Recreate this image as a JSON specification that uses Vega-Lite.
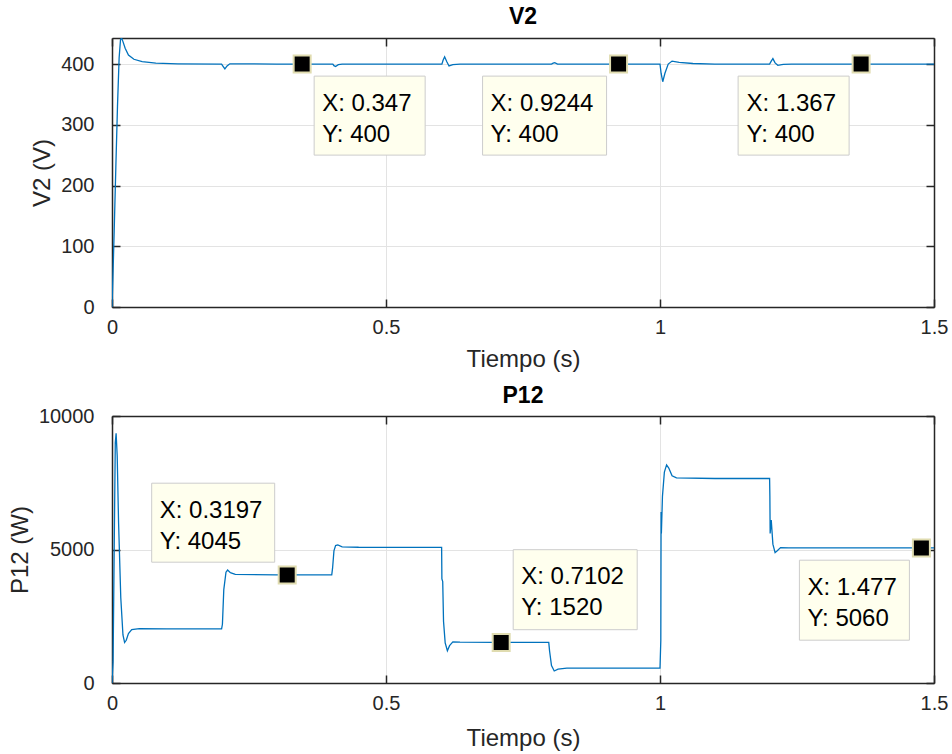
{
  "$schema": "https://vega.github.io/schema/vega-lite/v6.json",
  "padding": {"left": 8, "top": 6, "right": 5, "bottom": 5},
  "background": "#ffffff",
  "spacing": 14,
  "config": {
    "view": {"stroke": null},
    "font": "Liberation Sans",
    "axis": {
      "labelFont": "Liberation Sans",
      "labelFontSize": 20,
      "labelColor": "#262626",
      "labelFlush": false,
      "titleFont": "Liberation Sans",
      "titleFontSize": 24,
      "titleFontWeight": "normal",
      "titleColor": "#262626",
      "domainColor": "#262626",
      "domainWidth": 1.5,
      "tickColor": "#262626",
      "tickWidth": 1.5,
      "tickSize": -8,
      "gridColor": "#E3E3E3",
      "gridWidth": 1
    },
    "title": {"font": "Liberation Sans", "fontSize": 23, "fontWeight": "bold", "color": "#000000", "offset": 8}
  },
  "datasets": {
    "v2": [
      {"t": 0, "v": 0}, {"t": 0.002, "v": 60}, {"t": 0.004, "v": 125}, {"t": 0.007, "v": 230}, {"t": 0.01, "v": 330},
      {"t": 0.013, "v": 410}, {"t": 0.0155, "v": 440}, {"t": 0.0175, "v": 443}, {"t": 0.02, "v": 437}, {"t": 0.024, "v": 426},
      {"t": 0.03, "v": 415}, {"t": 0.04, "v": 408}, {"t": 0.055, "v": 404}, {"t": 0.08, "v": 401.5}, {"t": 0.12, "v": 400.5},
      {"t": 0.2, "v": 400}, {"t": 0.203, "v": 396}, {"t": 0.206, "v": 392}, {"t": 0.21, "v": 397}, {"t": 0.215, "v": 400.5},
      {"t": 0.24, "v": 400.5}, {"t": 0.3, "v": 400}, {"t": 0.403, "v": 400}, {"t": 0.405, "v": 397.5}, {"t": 0.408, "v": 396},
      {"t": 0.413, "v": 399}, {"t": 0.42, "v": 400}, {"t": 0.602, "v": 400}, {"t": 0.604, "v": 406}, {"t": 0.607, "v": 412},
      {"t": 0.611, "v": 404}, {"t": 0.615, "v": 397}, {"t": 0.622, "v": 399}, {"t": 0.635, "v": 400}, {"t": 0.802, "v": 400},
      {"t": 0.805, "v": 401.5}, {"t": 0.808, "v": 402.5}, {"t": 0.813, "v": 400}, {"t": 1.0, "v": 400}, {"t": 1.002, "v": 385},
      {"t": 1.005, "v": 371}, {"t": 1.009, "v": 385}, {"t": 1.015, "v": 400}, {"t": 1.022, "v": 405}, {"t": 1.035, "v": 403},
      {"t": 1.06, "v": 401}, {"t": 1.1, "v": 400}, {"t": 1.2, "v": 400}, {"t": 1.203, "v": 405}, {"t": 1.206, "v": 409},
      {"t": 1.21, "v": 402}, {"t": 1.215, "v": 398}, {"t": 1.225, "v": 399.5}, {"t": 1.24, "v": 400}, {"t": 1.5, "v": 400}
    ],
    "p12": [
      {"t": 0, "v": 0}, {"t": 0.002, "v": 800}, {"t": 0.004, "v": 5000}, {"t": 0.006, "v": 9000}, {"t": 0.0075, "v": 9350},
      {"t": 0.0095, "v": 8500}, {"t": 0.012, "v": 6000}, {"t": 0.016, "v": 3200}, {"t": 0.02, "v": 1800}, {"t": 0.023, "v": 1520},
      {"t": 0.026, "v": 1600}, {"t": 0.03, "v": 1850}, {"t": 0.036, "v": 2000}, {"t": 0.05, "v": 2040}, {"t": 0.1, "v": 2030},
      {"t": 0.2, "v": 2030}, {"t": 0.2015, "v": 2200}, {"t": 0.204, "v": 3500}, {"t": 0.208, "v": 4150}, {"t": 0.211, "v": 4230},
      {"t": 0.216, "v": 4130}, {"t": 0.225, "v": 4070}, {"t": 0.3, "v": 4050}, {"t": 0.401, "v": 4050}, {"t": 0.4025, "v": 4300},
      {"t": 0.405, "v": 4950}, {"t": 0.408, "v": 5150}, {"t": 0.412, "v": 5170}, {"t": 0.42, "v": 5100}, {"t": 0.45, "v": 5085},
      {"t": 0.6, "v": 5080}, {"t": 0.6015, "v": 5080}, {"t": 0.602, "v": 3900}, {"t": 0.6035, "v": 3800}, {"t": 0.605, "v": 2300},
      {"t": 0.608, "v": 1500}, {"t": 0.612, "v": 1210}, {"t": 0.616, "v": 1400}, {"t": 0.622, "v": 1540}, {"t": 0.635, "v": 1530},
      {"t": 0.7, "v": 1520}, {"t": 0.797, "v": 1520}, {"t": 0.7985, "v": 1200}, {"t": 0.802, "v": 650}, {"t": 0.807, "v": 450},
      {"t": 0.814, "v": 520}, {"t": 0.83, "v": 560}, {"t": 0.9, "v": 560}, {"t": 1.0, "v": 560}, {"t": 1.0015, "v": 1600},
      {"t": 1.002, "v": 6400}, {"t": 1.0025, "v": 5600}, {"t": 1.0045, "v": 7000}, {"t": 1.008, "v": 7900}, {"t": 1.012, "v": 8170},
      {"t": 1.016, "v": 8050}, {"t": 1.022, "v": 7760}, {"t": 1.03, "v": 7680}, {"t": 1.1, "v": 7660}, {"t": 1.2, "v": 7660},
      {"t": 1.2005, "v": 7000}, {"t": 1.201, "v": 5600}, {"t": 1.203, "v": 6100}, {"t": 1.206, "v": 5200}, {"t": 1.21, "v": 4880},
      {"t": 1.214, "v": 4950}, {"t": 1.22, "v": 5070}, {"t": 1.235, "v": 5060}, {"t": 1.5, "v": 5060}
    ],
    "tipsV": [
      {"id": 1, "t": 0.347, "v": 400, "label": ["X: 0.347", "Y: 400"]},
      {"id": 2, "t": 0.9244, "v": 400, "label": ["X: 0.9244", "Y: 400"]},
      {"id": 3, "t": 1.367, "v": 400, "label": ["X: 1.367", "Y: 400"]}
    ],
    "tipsP": [
      {"id": 1, "t": 0.3197, "v": 4045, "label": ["X: 0.3197", "Y: 4045"]},
      {"id": 2, "t": 0.7102, "v": 1520, "label": ["X: 0.7102", "Y: 1520"]},
      {"id": 3, "t": 1.477, "v": 5060, "label": ["X: 1.477", "Y: 5060"]}
    ]
  },
  "vconcat": [
    {
      "title": {"text": "V2", "offset": 8},
      "width": 822,
      "height": 269,
      "resolve": {"axis": {"x": "independent", "y": "independent"}},
      "layer": [
        {
          "data": {"name": "v2"},
          "mark": {"type": "line", "color": "#0072BD", "strokeWidth": 1.3, "clip": true},
          "encoding": {
            "x": {"field": "t", "type": "quantitative", "scale": {"domain": [0, 1.5], "nice": false, "zero": false},
                  "axis": {"title": "Tiempo (s)", "values": [0, 0.5, 1, 1.5], "labelExpr": "'' + datum.value", "grid": true, "labelPadding": 18, "titlePadding": 10}},
            "y": {"field": "v", "type": "quantitative", "scale": {"domain": [0, 443], "nice": false},
                  "axis": {"title": "V2 (V)", "values": [0, 100, 200, 300, 400], "grid": true, "labelPadding": 26, "titlePadding": 6}}
          }
        },
        {
          "data": {"name": "tipsV"},
          "mark": {"type": "point", "opacity": 0},
          "encoding": {
            "x": {"field": "t", "type": "quantitative", "axis": {"orient": "top", "labels": false, "title": null, "grid": false, "values": [0, 0.5, 1, 1.5]}},
            "y": {"field": "v", "type": "quantitative", "axis": {"orient": "right", "labels": false, "title": null, "grid": false, "values": [0, 100, 200, 300, 400]}}
          }
        },
        {
          "data": {"name": "tipsV"},
          "transform": [{"filter": "datum.id == 1"}],
          "mark": {"type": "rect", "width": 111, "height": 79, "xOffset": 67.5, "yOffset": 51.5, "fill": "#FFFFEE", "stroke": "#CCCCCC", "strokeWidth": 1},
          "encoding": {"x": {"field": "t", "type": "quantitative", "axis": null}, "y": {"field": "v", "type": "quantitative", "axis": null}}
        },
        {
          "data": {"name": "tipsV"},
          "transform": [{"filter": "datum.id == 2"}],
          "mark": {"type": "rect", "width": 124, "height": 79, "xOffset": -74, "yOffset": 51.5, "fill": "#FFFFEE", "stroke": "#CCCCCC", "strokeWidth": 1},
          "encoding": {"x": {"field": "t", "type": "quantitative", "axis": null}, "y": {"field": "v", "type": "quantitative", "axis": null}}
        },
        {
          "data": {"name": "tipsV"},
          "transform": [{"filter": "datum.id == 3"}],
          "mark": {"type": "rect", "width": 111, "height": 79, "xOffset": -67.5, "yOffset": 51.5, "fill": "#FFFFEE", "stroke": "#CCCCCC", "strokeWidth": 1},
          "encoding": {"x": {"field": "t", "type": "quantitative", "axis": null}, "y": {"field": "v", "type": "quantitative", "axis": null}}
        },
        {
          "data": {"name": "tipsV"},
          "transform": [{"filter": "datum.id == 1"}],
          "mark": {"type": "text", "align": "left", "baseline": "alphabetic", "dx": 20, "dy": 46.6, "fontSize": 24, "lineHeight": 31, "font": "Liberation Sans", "color": "#000000"},
          "encoding": {"x": {"field": "t", "type": "quantitative", "axis": null}, "y": {"field": "v", "type": "quantitative", "axis": null}, "text": {"field": "label"}}
        },
        {
          "data": {"name": "tipsV"},
          "transform": [{"filter": "datum.id == 2"}],
          "mark": {"type": "text", "align": "left", "baseline": "alphabetic", "dx": -128, "dy": 46.6, "fontSize": 24, "lineHeight": 31, "font": "Liberation Sans", "color": "#000000"},
          "encoding": {"x": {"field": "t", "type": "quantitative", "axis": null}, "y": {"field": "v", "type": "quantitative", "axis": null}, "text": {"field": "label"}}
        },
        {
          "data": {"name": "tipsV"},
          "transform": [{"filter": "datum.id == 3"}],
          "mark": {"type": "text", "align": "left", "baseline": "alphabetic", "dx": -114.5, "dy": 46.6, "fontSize": 24, "lineHeight": 31, "font": "Liberation Sans", "color": "#000000"},
          "encoding": {"x": {"field": "t", "type": "quantitative", "axis": null}, "y": {"field": "v", "type": "quantitative", "axis": null}, "text": {"field": "label"}}
        },
        {
          "data": {"name": "tipsV"},
          "mark": {"type": "point", "shape": "square", "filled": true, "size": 289, "color": "#000000", "stroke": "#E0DCB0", "strokeWidth": 2, "opacity": 1},
          "encoding": {"x": {"field": "t", "type": "quantitative", "axis": null}, "y": {"field": "v", "type": "quantitative", "axis": null}}
        }
      ]
    },
    {
      "title": {"text": "P12", "offset": -2},
      "width": 822,
      "height": 267,
      "resolve": {"axis": {"x": "independent", "y": "independent"}},
      "layer": [
        {
          "data": {"name": "p12"},
          "mark": {"type": "line", "color": "#0072BD", "strokeWidth": 1.3, "clip": true},
          "encoding": {
            "x": {"field": "t", "type": "quantitative", "scale": {"domain": [0, 1.5], "nice": false, "zero": false},
                  "axis": {"title": "Tiempo (s)", "values": [0, 0.5, 1, 1.5], "labelExpr": "'' + datum.value", "grid": true, "labelPadding": 18, "titlePadding": 13}},
            "y": {"field": "v", "type": "quantitative", "scale": {"domain": [0, 10000], "nice": false},
                  "axis": {"title": "P12 (W)", "values": [0, 5000, 10000], "format": "d", "grid": true, "labelPadding": 26, "titlePadding": 6}}
          }
        },
        {
          "data": {"name": "tipsP"},
          "mark": {"type": "point", "opacity": 0},
          "encoding": {
            "x": {"field": "t", "type": "quantitative", "axis": {"orient": "top", "labels": false, "title": null, "grid": false, "values": [0, 0.5, 1, 1.5]}},
            "y": {"field": "v", "type": "quantitative", "axis": {"orient": "right", "labels": false, "title": null, "grid": false, "values": [0, 5000, 10000]}}
          }
        },
        {
          "data": {"name": "tipsP"},
          "transform": [{"filter": "datum.id == 1"}],
          "mark": {"type": "rect", "width": 123, "height": 79, "xOffset": -74, "yOffset": -52.3, "fill": "#FFFFEE", "stroke": "#CCCCCC", "strokeWidth": 1},
          "encoding": {"x": {"field": "t", "type": "quantitative", "axis": null}, "y": {"field": "v", "type": "quantitative", "axis": null}}
        },
        {
          "data": {"name": "tipsP"},
          "transform": [{"filter": "datum.id == 2"}],
          "mark": {"type": "rect", "width": 124, "height": 80, "xOffset": 74, "yOffset": -52.7, "fill": "#FFFFEE", "stroke": "#CCCCCC", "strokeWidth": 1},
          "encoding": {"x": {"field": "t", "type": "quantitative", "axis": null}, "y": {"field": "v", "type": "quantitative", "axis": null}}
        },
        {
          "data": {"name": "tipsP"},
          "transform": [{"filter": "datum.id == 3"}],
          "mark": {"type": "rect", "width": 110, "height": 80, "xOffset": -67, "yOffset": 52.3, "fill": "#FFFFEE", "stroke": "#CCCCCC", "strokeWidth": 1},
          "encoding": {"x": {"field": "t", "type": "quantitative", "axis": null}, "y": {"field": "v", "type": "quantitative", "axis": null}}
        },
        {
          "data": {"name": "tipsP"},
          "transform": [{"filter": "datum.id == 1"}],
          "mark": {"type": "text", "align": "left", "baseline": "alphabetic", "dx": -127.5, "dy": -57.1, "fontSize": 24, "lineHeight": 31, "font": "Liberation Sans", "color": "#000000"},
          "encoding": {"x": {"field": "t", "type": "quantitative", "axis": null}, "y": {"field": "v", "type": "quantitative", "axis": null}, "text": {"field": "label"}}
        },
        {
          "data": {"name": "tipsP"},
          "transform": [{"filter": "datum.id == 2"}],
          "mark": {"type": "text", "align": "left", "baseline": "alphabetic", "dx": 20, "dy": -58.1, "fontSize": 24, "lineHeight": 31, "font": "Liberation Sans", "color": "#000000"},
          "encoding": {"x": {"field": "t", "type": "quantitative", "axis": null}, "y": {"field": "v", "type": "quantitative", "axis": null}, "text": {"field": "label"}}
        },
        {
          "data": {"name": "tipsP"},
          "transform": [{"filter": "datum.id == 3"}],
          "mark": {"type": "text", "align": "left", "baseline": "alphabetic", "dx": -114, "dy": 46.9, "fontSize": 24, "lineHeight": 31, "font": "Liberation Sans", "color": "#000000"},
          "encoding": {"x": {"field": "t", "type": "quantitative", "axis": null}, "y": {"field": "v", "type": "quantitative", "axis": null}, "text": {"field": "label"}}
        },
        {
          "data": {"name": "tipsP"},
          "mark": {"type": "point", "shape": "square", "filled": true, "size": 289, "color": "#000000", "stroke": "#E0DCB0", "strokeWidth": 2, "opacity": 1},
          "encoding": {"x": {"field": "t", "type": "quantitative", "axis": null}, "y": {"field": "v", "type": "quantitative", "axis": null}}
        }
      ]
    }
  ]
}
